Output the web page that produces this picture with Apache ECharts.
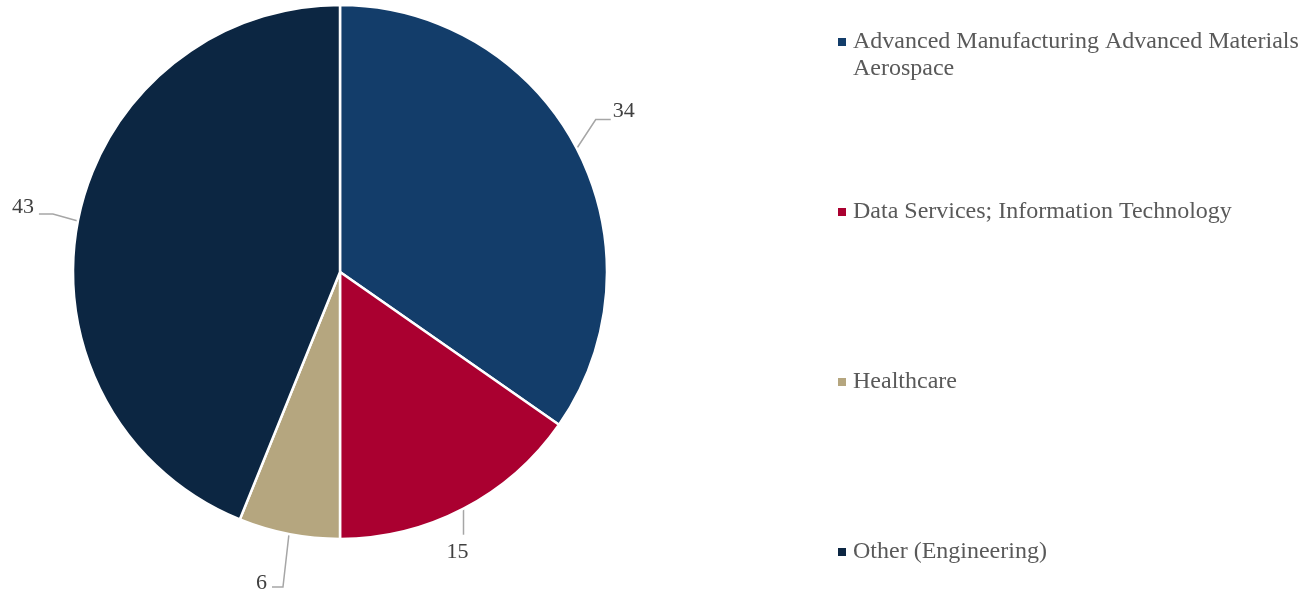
<!DOCTYPE html>
<html>
<head>
<meta charset="utf-8">
<script src="https://cdn.jsdelivr.net/npm/echarts@6/dist/echarts.min.js"></script>
<style>
  html, body { margin: 0; padding: 0; background: #fff; }
  #chart { width: 1316px; height: 594px; }
</style>
</head>
<body>
<div id="chart"></div>
<script>
// datos del grafico
const categories = [
  'Advanced Manufacturing Advanced Materials Aerospace',
  'Data Services; Information Technology',
  'Healthcare',
  'Other (Engineering)'
];
const values = [34, 15, 6, 43];
const colors = ['#133d6a', '#aa0030', '#b5a67f', '#0c2642'];
const legendCenters = [42, 212, 382, 552];

// forma de las lineas guia (relativa al borde del sector), estilo Excel
const guides = [
  { seg: [[19, -29], [15, 0]], lab: [2, -8], align: 'left' },
  { seg: [[0, 26], [0, 0]], lab: [-6, 17], align: 'center' },
  { seg: [[-6, 53], [-11, 0]], lab: [-5, -4], align: 'right' },
  { seg: [[-25, -7], [-14, 0]], lab: [-5, -7], align: 'right' }
];

const chart = echarts.init(document.getElementById('chart'));
const font = '"Liberation Serif", "Times New Roman", serif';

// una leyenda por item, para poder espaciarlas como en el original
const legends = categories.map((name, i) => {
  const twoLines = i === 0;
  return {
    data: [name],
    orient: 'vertical',
    left: 838,
    top: twoLines ? legendCenters[i] - 40.5 : legendCenters[i] - 13.5,
    padding: 0,
    itemWidth: 8,
    itemHeight: 8,
    icon: 'rect',
    selectedMode: false,
    itemStyle: { borderWidth: 0 },
    formatter: n => twoLines ? '\nAdvanced Manufacturing Advanced Materials\nAerospace' : n,
    textStyle: {
      fontFamily: font,
      fontSize: 24,
      color: '#595959',
      lineHeight: 27,
      padding: [0, 0, 0, 2]
    }
  };
});

const option = {
  animation: false,
  color: colors,
  legend: legends,
  series: [
    {
      type: 'pie',
      center: [340, 272],
      radius: 267,
      startAngle: 90,
      clockwise: true,
      itemStyle: { borderColor: '#fff', borderWidth: 2.5 },
      label: {
        show: true,
        position: 'outside',
        formatter: '{c}',
        fontFamily: font,
        fontSize: 22,
        color: '#404040'
      },
      labelLine: {
        show: true,
        length: 22,
        length2: 14,
        lineStyle: { color: '#a6a6a6', width: 1.5 }
      },
      labelLayout: function (params) {
        const g = guides[params.dataIndex];
        const pts = params.labelLinePoints;
        if (!g || !pts) return {};
        const e = pts[0];
        const p1 = [e[0] + g.seg[0][0], e[1] + g.seg[0][1]];
        const p2 = [p1[0] + g.seg[1][0], p1[1] + g.seg[1][1]];
        return {
          x: p2[0] + g.lab[0],
          y: p2[1] + g.lab[1],
          align: g.align,
          verticalAlign: 'middle',
          labelLinePoints: [e, p1, p2]
        };
      },
      data: categories.map((name, i) => ({ name, value: values[i] }))
    }
  ]
};

chart.setOption(option);
</script>
</body>
</html>
